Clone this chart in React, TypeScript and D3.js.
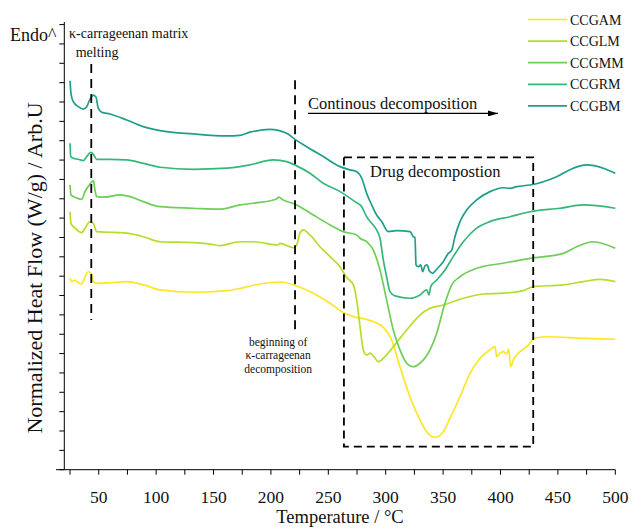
import React from 'react';
import * as d3 from 'd3';

// DSC thermograms of the carrageenan-based samples
const seriesNames = ['CCGAM', 'CCGLM', 'CCGMM', 'CCGRM', 'CCGBM'];
const seriesColors = ['#fde725', '#b5de2b', '#6ece58', '#35b779', '#1f9e89'];

// Temperature (°C) and normalized heat flow (arb. units, offset per sample)
const ccgamT = [25.0, 26.4, 29.3, 32.2, 35.2, 38.0, 40.9, 43.3, 45.3, 48.2, 59.8, 74.4, 88.8, 103.4, 132.4, 161.5, 173.1, 184.6, 207.9, 222.4, 236.9, 251.5, 263.0, 271.8, 284.6, 297.9, 305.2, 312.4, 321.1, 329.8, 335.7, 342.9, 350.1, 356.0, 364.7, 373.4, 382.1, 390.8, 395.2, 396.7, 399.5, 402.4, 405.4, 407.1, 408.9, 411.1, 415.5, 425.7, 428.5, 440.2, 472.1, 500];
const ccgamV = [9.89, 9.72, 9.80, 9.66, 9.60, 9.97, 10.23, 10.15, 9.72, 9.63, 9.66, 9.72, 9.55, 9.29, 9.17, 9.25, 9.37, 9.53, 9.70, 9.49, 9.12, 8.60, 8.12, 7.91, 7.74, 7.35, 6.70, 5.32, 3.77, 2.57, 1.96, 1.67, 1.96, 2.66, 3.77, 4.98, 5.76, 6.19, 6.36, 5.84, 6.02, 6.10, 5.98, 6.22, 5.32, 5.67, 6.02, 6.53, 6.79, 6.87, 6.79, 6.74];

const ccglmT = [25.0, 25.8, 29.3, 35.2, 38.0, 42.4, 45.3, 48.2, 59.8, 74.4, 88.8, 103.4, 132.4, 146.9, 155.6, 173.1, 184.6, 206.4, 207.9, 219.5, 222.4, 225.3, 228.2, 234.0, 242.7, 251.5, 260.2, 266.0, 271.8, 274.7, 277.6, 280.5, 283.4, 286.3, 289.8, 293.5, 299.3, 306.6, 318.3, 329.8, 338.6, 350.2, 367.6, 385.0, 402.4, 419.8, 428.5, 454.7, 472.1, 486.6, 500];
const ccglmV = [13.33, 12.73, 12.48, 12.25, 12.48, 12.82, 12.73, 12.30, 12.27, 12.22, 12.04, 11.78, 11.73, 11.66, 11.58, 11.78, 11.78, 11.61, 11.70, 11.47, 11.61, 12.22, 12.39, 12.13, 11.52, 11.01, 10.49, 9.93, 9.55, 8.77, 7.39, 6.19, 5.93, 6.02, 5.84, 5.58, 5.84, 6.36, 7.22, 7.99, 8.34, 8.51, 8.86, 9.08, 9.12, 9.25, 9.46, 9.55, 9.72, 9.84, 9.72];

const ccgmmT = [25.0, 25.8, 29.3, 35.2, 38.0, 41.8, 45.3, 46.7, 48.2, 54.0, 68.5, 77.2, 88.8, 103.4, 132.4, 155.6, 173.1, 184.6, 205.0, 206.4, 210.8, 222.4, 236.9, 251.5, 263.0, 274.7, 277.6, 283.4, 289.2, 295.0, 300.8, 306.6, 312.4, 318.3, 324.0, 329.8, 338.6, 344.4, 351.6, 357.5, 364.7, 379.2, 402.4, 425.7, 454.7, 466.3, 480.8, 500];
const ccgmmV = [14.71, 14.20, 14.08, 13.97, 14.37, 14.71, 14.94, 14.45, 14.11, 14.08, 14.20, 14.11, 13.85, 13.59, 13.51, 13.46, 13.68, 13.77, 13.99, 14.08, 13.94, 13.68, 13.16, 12.65, 12.30, 12.13, 11.96, 11.78, 11.35, 10.32, 8.77, 7.22, 6.19, 5.50, 5.32, 5.50, 6.19, 7.05, 8.60, 9.55, 9.97, 10.41, 10.67, 10.92, 11.18, 11.52, 11.78, 11.44];

const ccgrmT = [25.0, 25.6, 27.8, 32.2, 36.6, 39.5, 43.0, 45.3, 48.2, 59.8, 74.4, 88.8, 103.4, 132.4, 161.5, 173.1, 181.8, 202.1, 213.7, 222.4, 234.0, 245.6, 260.2, 273.2, 279.1, 283.4, 287.8, 292.1, 295.0, 297.9, 300.8, 303.7, 308.1, 321.1, 329.8, 335.7, 337.7, 339.2, 344.4, 351.6, 358.8, 367.6, 379.2, 390.8, 408.2, 425.7, 451.8, 472.1, 500];
const ccgrmV = [16.87, 16.18, 16.09, 16.04, 15.97, 16.18, 16.40, 16.30, 16.04, 16.04, 16.01, 15.83, 15.63, 15.52, 15.58, 15.66, 15.75, 16.01, 15.92, 15.70, 15.32, 14.80, 14.37, 13.85, 13.59, 13.07, 12.73, 12.39, 11.96, 10.84, 9.97, 9.20, 8.98, 8.86, 9.03, 9.29, 9.03, 9.46, 9.80, 10.32, 11.01, 11.78, 12.48, 12.82, 13.07, 13.33, 13.51, 13.68, 13.51];

const ccgbmT = [25.0, 25.8, 27.8, 32.2, 36.6, 39.5, 42.4, 45.3, 47.6, 49.6, 52.6, 59.8, 74.4, 88.8, 103.4, 132.4, 161.5, 173.1, 181.8, 199.2, 213.7, 221.0, 231.2, 245.6, 260.2, 268.9, 274.7, 279.1, 283.4, 287.8, 292.1, 296.5, 302.2, 309.5, 321.1, 324.0, 325.5, 326.4, 328.4, 330.5, 332.2, 334.2, 336.2, 337.9, 340.9, 344.4, 350.1, 354.5, 357.5, 360.3, 364.7, 370.5, 379.2, 390.8, 402.4, 408.2, 414.1, 425.7, 448.9, 463.4, 475.1, 489.5, 500];
const ccgbmV = [20.10, 19.45, 19.02, 18.76, 18.63, 18.76, 19.14, 19.36, 19.25, 18.68, 18.47, 18.38, 18.07, 17.73, 17.52, 17.35, 17.25, 17.28, 17.44, 17.59, 17.39, 17.07, 16.69, 16.18, 15.66, 15.49, 15.40, 15.06, 14.28, 13.68, 13.16, 12.82, 12.30, 12.35, 12.30, 12.04, 12.01, 10.58, 10.49, 10.58, 10.23, 10.53, 10.58, 10.28, 10.15, 10.36, 10.75, 11.18, 11.35, 12.04, 12.82, 13.42, 13.94, 14.37, 14.57, 14.54, 14.63, 14.71, 15.14, 15.58, 15.75, 15.58, 15.32];

const seriesT = [ccgamT, ccglmT, ccgmmT, ccgrmT, ccgbmT];
const seriesV = [ccgamV, ccglmV, ccgmmV, ccgrmV, ccgbmV];

// Axis ticks
const xTicks = d3.range(25, 501, 25);
const xLabelTicks = [50, 100, 150, 200, 250, 300, 350, 400, 450, 500];
const yTicks = d3.range(0, 24);

// Event markers
const meltingT = 43.5;
const meltingRange = [7.74, 20.97];
const carrDecompT = 221;
const carrDecompRange = [7.17, 20.13];
const drugBoxT = [263.6, 428.5];
const drugBoxV = [1.19, 16.14];
const arrowT = [232.3, 397.8];
const arrowV = 18.41;

const FONT = '"Liberation Serif", "Times New Roman", serif';

export default function App() {
  const width = 632;
  const height = 528;
  const x = d3.scaleLinear().domain([20, 500]).range([64.3, 615.3]);
  const y = d3.scaleLinear().domain([0, 23]).range([469.7, 24.6]);

  const line = d3
    .line<[number, number]>()
    .x((d) => x(d[0]))
    .y((d) => y(d[1]))
    .curve(d3.curveMonotoneX);

  const x0 = x(20);
  const yBase = y(0);

  return (
    <svg
      width={width}
      height={height}
      viewBox={`0 0 ${width} ${height}`}
      style={{ position: 'absolute', left: 0, top: 0, background: '#fff' }}
      fontFamily={FONT}
    >
      {/* curves */}
      {seriesT.map((ts, i) => (
        <path
          key={seriesNames[i]}
          d={line(d3.zip(ts, seriesV[i]) as [number, number][]) || ''}
          fill="none"
          stroke={seriesColors[i]}
          strokeWidth={1.7}
          strokeLinejoin="round"
        />
      ))}

      {/* x axis */}
      <line x1={56} x2={x(500)} y1={yBase} y2={yBase} stroke="#000" strokeWidth={1} />
      {xTicks.map((t) => (
        <line key={`xt${t}`} x1={x(t)} x2={x(t)} y1={yBase} y2={yBase + 5} stroke="#000" strokeWidth={1} />
      ))}
      {xLabelTicks.map((t) => (
        <text key={`xl${t}`} x={x(t)} y={503} textAnchor="middle" fontSize={17.5} fill="#111">
          {t}
        </text>
      ))}
      <text x={340} y={523} textAnchor="middle" fontSize={18.5} fill="#111">
        Temperature / °C
      </text>

      {/* y axis */}
      <line x1={x0} x2={x0} y1={yBase} y2={22} stroke="#000" strokeWidth={1} />
      {yTicks.map((v) => (
        <line key={`yt${v}`} x1={x0 - 5} x2={x0} y1={y(v)} y2={y(v)} stroke="#000" strokeWidth={1} />
      ))}
      <text
        transform={`translate(42,268) rotate(-90)`}
        textAnchor="middle"
        fontSize={22}
        fill="#111"
      >
        Normalized Heat Flow (W/g) / Arb.U
      </text>
      <text x={10} y={41} fontSize={18} fill="#111">
        Endo^
      </text>

      {/* melting marker */}
      <line
        x1={x(meltingT)}
        x2={x(meltingT)}
        y1={y(meltingRange[1])}
        y2={y(meltingRange[0])}
        stroke="#000"
        strokeWidth={1.8}
        strokeDasharray="9,6"
      />
      <text x={x(24.1)} y={y(22.31)} fontSize={14} fill="#111">
        κ-carrageenan matrix
      </text>
      <text x={x(29.9)} y={y(21.33)} fontSize={14} fill="#111">
        melting
      </text>

      {/* onset of carrageenan decomposition */}
      <line
        x1={x(carrDecompT)}
        x2={x(carrDecompT)}
        y1={y(carrDecompRange[1])}
        y2={y(carrDecompRange[0])}
        stroke="#000"
        strokeWidth={1.8}
        strokeDasharray="9,6"
      />
      {['beginning of', 'κ-carrageenan', 'decomposition'].map((s, i) => (
        <text key={s} x={x(206.3)} y={y(6.39 - 0.69 * i)} textAnchor="middle" fontSize={11.5} fill="#111">
          {s}
        </text>
      ))}

      {/* continuous decomposition arrow */}
      <defs>
        <marker id="arrowHead" viewBox="0 0 10 6" refX={10} refY={3} markerWidth={10} markerHeight={6} markerUnits="userSpaceOnUse" orient="auto">
          <path d="M0,0 L10,3 L0,6 Z" fill="#000" />
        </marker>
      </defs>
      <line
        x1={x(arrowT[0])}
        x2={x(arrowT[1])}
        y1={y(arrowV)}
        y2={y(arrowV)}
        stroke="#000"
        strokeWidth={1.2}
        markerEnd="url(#arrowHead)"
      />
      <text x={x(arrowT[0])} y={y(18.64)} fontSize={16.5} fill="#111">
        Continous decomposition
      </text>

      {/* drug decomposition region */}
      <rect
        x={x(drugBoxT[0])}
        y={y(drugBoxV[1])}
        width={x(drugBoxT[1]) - x(drugBoxT[0])}
        height={y(drugBoxV[0]) - y(drugBoxV[1])}
        fill="none"
        stroke="#000"
        strokeWidth={1.8}
        strokeDasharray="8,5"
      />
      <text x={x(286.3)} y={y(15.13)} fontSize={16.5} fill="#111">
        Drug decompostion
      </text>

      {/* legend */}
      {seriesNames.map((n, i) => {
        const ly = 19.5 + 21.6 * i;
        return (
          <g key={`lg${n}`}>
            <line x1={528} x2={567} y1={ly} y2={ly} stroke={seriesColors[i]} strokeWidth={1.7} />
            <text x={570} y={ly + 5} fontSize={14} fill="#111">
              {n}
            </text>
          </g>
        );
      })}
    </svg>
  );
}
